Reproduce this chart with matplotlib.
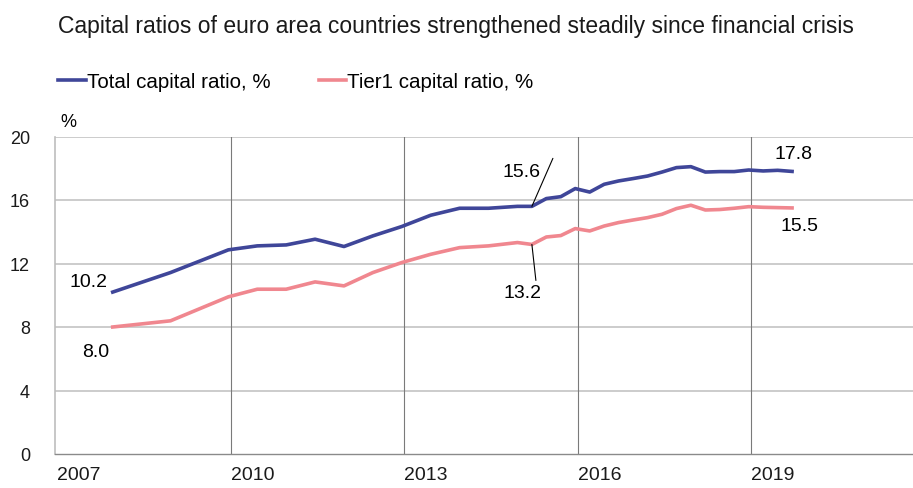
import matplotlib.pyplot as plt

plt.rcParams['font.family'] = ['Liberation Sans', 'DejaVu Sans']

periods = ["2007Q4", "2008Q4", "2009Q4", "2010Q2", "2010Q4", "2011Q2", "2011Q4",
           "2012Q2", "2012Q4", "2013Q2", "2013Q4", "2014Q2", "2014Q4",
           "2015Q1", "2015Q2", "2015Q3", "2015Q4",
           "2016Q1", "2016Q2", "2016Q3", "2016Q4",
           "2017Q1", "2017Q2", "2017Q3", "2017Q4",
           "2018Q1", "2018Q2", "2018Q3", "2018Q4",
           "2019Q1", "2019Q2", "2019Q3"]
total = [10.2, 11.43, 12.86, 13.11, 13.17, 13.53, 13.07, 13.74, 14.33, 15.04, 15.48, 15.48, 15.6,
         15.6, 16.09, 16.21, 16.72, 16.5, 16.99, 17.2, 17.35, 17.51, 17.76, 18.04, 18.1,
         17.76, 17.79, 17.79, 17.89, 17.83, 17.87, 17.8]
tier1 = [8.0, 8.39, 9.9, 10.38, 10.38, 10.84, 10.59, 11.43, 12.06, 12.58, 13.0, 13.11, 13.32,
         13.2, 13.67, 13.76, 14.2, 14.05, 14.36, 14.58, 14.74, 14.89, 15.1, 15.46, 15.67,
         15.37, 15.4, 15.48, 15.58, 15.54, 15.52, 15.5]
year_ticks = [2007, 2010, 2013, 2016, 2019]
y_ticks = [0, 4, 8, 12, 16, 20]

# quarter -> decimal year (middle of the quarter's last month)
x = [int(p[:4]) + (3 * int(p[5]) - 0.5) / 12 for p in periods]

blue = "#3f4699"
pink = "#f0878f"

fig = plt.figure(figsize=(9.13, 4.89), dpi=100)
ax = fig.add_axes([55 / 913, 34 / 489, 858 / 913, 317.5 / 489])

ax.plot(x, total, color=blue, lw=2.6, label="Total capital ratio, %", zorder=3)
ax.plot(x, tier1, color=pink, lw=2.6, label="Tier1 capital ratio, %", zorder=3)

ax.set_xlim(2006.96, 2021.8)
ax.set_ylim(0, 20)
ax.set_yticks(y_ticks)
ax.set_xticks(year_ticks)
ax.set_xticklabels([str(y) for y in year_ticks], ha="left")
ax.tick_params(axis="both", length=0, colors="#1a1a1a")
ax.tick_params(axis="y", pad=18, labelsize=13)
ax.tick_params(axis="x", pad=9, labelsize=14)

for y in y_ticks[1:]:
    ax.axhline(y, color="#c8c8c8", lw=1.3, zorder=1)
for yr in year_ticks[1:]:
    ax.axvline(yr, color="#7a7a7a", lw=0.8, zorder=1)

for s in ["top", "right"]:
    ax.spines[s].set_visible(False)
ax.spines["left"].set_color("#bdbdbd")
ax.spines["left"].set_linewidth(1.2)
ax.spines["bottom"].set_color("#8a8a8a")
ax.spines["bottom"].set_linewidth(1.0)

# value labels
fs = 14
ax.annotate("10.2", (x[0], total[0]), xytext=(-5, 11), textcoords="offset pixels",
            ha="right", va="center", fontsize=fs)
ax.annotate("8.0", (x[0], tier1[0]), xytext=(-17, -25), textcoords="offset pixels",
            ha="center", va="center", fontsize=fs)
i = periods.index("2015Q1")
ax.annotate("", (x[i], total[i]), xytext=(21, 48), textcoords="offset pixels",
            arrowprops=dict(arrowstyle="-", color="black", lw=0.8, shrinkA=0, shrinkB=0))
ax.annotate("15.6", (x[i], total[i]), xytext=(-10, 35), textcoords="offset pixels",
            ha="center", va="center", fontsize=fs)
ax.annotate("", (x[i], tier1[i]), xytext=(4, -36), textcoords="offset pixels",
            arrowprops=dict(arrowstyle="-", color="black", lw=0.8, shrinkA=0, shrinkB=0))
ax.annotate("13.2", (x[i], tier1[i]), xytext=(-9, -48), textcoords="offset pixels",
            ha="center", va="center", fontsize=fs)
ax.annotate("17.8", (x[-1], total[-1]), xytext=(1, 18), textcoords="offset pixels",
            ha="center", va="center", fontsize=fs)
ax.annotate("15.5", (x[-1], tier1[-1]), xytext=(7, -18), textcoords="offset pixels",
            ha="center", va="center", fontsize=fs)

ax.text(5 / 858, 1.0 + 15 / 317.5, "%", transform=ax.transAxes,
        ha="left", va="center", fontsize=13)

fig.text(58 / 913, 1 - 33 / 489, "Capital ratios of euro area countries strengthened steadily since financial crisis",
         ha="left", va="baseline", fontsize=16.5, color="#1a1a1a")

fig.legend(loc="center left", bbox_to_anchor=(58 / 913, 1 - 83 / 489), ncol=2, frameon=False,
           fontsize=14.8, handlelength=1.36, handletextpad=0.05, columnspacing=2.33,
           borderaxespad=0, borderpad=0)

fig.savefig("out.png", dpi=100)
